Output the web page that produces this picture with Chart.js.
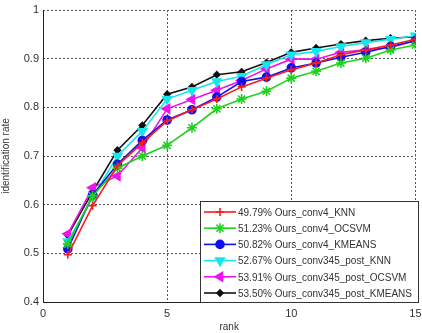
<!DOCTYPE html>
<html>
<head>
<meta charset="utf-8">
<script src="https://cdn.jsdelivr.net/npm/chart.js@4.4.1/dist/chart.umd.min.js"></script>
<style>
  html, body { margin: 0; padding: 0; background: #fff; }
  #wrap { width: 422px; height: 333px; position: relative; }
</style>
</head>
<body>
<div id="wrap"><canvas id="chart"></canvas></div>
<script>
const ranks = [1, 2, 3, 4, 5, 6, 7, 8, 9, 10, 11, 12, 13, 14, 15];

const conv4Knn = [0.497, 0.598, 0.680, 0.727, 0.772, 0.795, 0.817, 0.842, 0.860, 0.877, 0.891, 0.908, 0.918, 0.928, 0.940];
const conv4Ocsvm = [0.519, 0.618, 0.675, 0.700, 0.722, 0.758, 0.797, 0.817, 0.833, 0.860, 0.874, 0.891, 0.901, 0.918, 0.928];
const conv4Kmeans = [0.509, 0.620, 0.683, 0.732, 0.774, 0.795, 0.821, 0.853, 0.862, 0.881, 0.891, 0.903, 0.913, 0.925, 0.937];
const postKnn = [0.524, 0.615, 0.700, 0.751, 0.817, 0.835, 0.853, 0.864, 0.888, 0.908, 0.915, 0.925, 0.933, 0.940, 0.947];
const postOcsvm = [0.540, 0.635, 0.659, 0.717, 0.797, 0.816, 0.835, 0.855, 0.879, 0.899, 0.899, 0.913, 0.918, 0.923, 0.937];
const postKmeans = [0.537, 0.627, 0.712, 0.763, 0.827, 0.842, 0.867, 0.873, 0.892, 0.913, 0.922, 0.930, 0.937, 0.942, 0.945];

const xTicks = [0, 5, 10, 15];
const yTicks = [0.4, 0.5, 0.6, 0.7, 0.8, 0.9, 1];

const seriesLabels = [
    '49.79% Ours_conv4_KNN',
    '51.23% Ours_conv4_OCSVM',
    '50.82% Ours_conv4_KMEANS',
    '52.67% Ours_conv345_post_KNN',
    '53.91% Ours_conv345_post_OCSVM',
    '53.50% Ours_conv345_post_KMEANS'
];

const styles = [
    { color: '#ff1a1a', point: 'cross', radius: 4, rot: 0 },
    { color: '#1ed21e', point: 'star', radius: 5, rot: 0 },
    { color: '#1010ee', point: 'circle', radius: 4, rot: 0 },
    { color: '#14e6ee', point: 'triangle', radius: 5, rot: 180 },
    { color: '#ee14ee', point: 'triangle', radius: 5, rot: -90 },
    { color: '#111111', point: 'rectRot', radius: 3, rot: 0 }
];

const values = [conv4Knn, conv4Ocsvm, conv4Kmeans, postKnn, postOcsvm, postKmeans];

const datasets = values.map((vals, i) => ({
    label: seriesLabels[i],
    data: vals.map((v, j) => ({ x: ranks[j], y: v })),
    borderColor: styles[i].color,
    backgroundColor: styles[i].color,
    borderWidth: 1.6,
    pointStyle: styles[i].point,
    pointRadius: styles[i].radius,
    pointRotation: styles[i].rot,
    pointBorderWidth: 1.6,
    tension: 0
}));

const matlabFrame = {
    id: 'matlabFrame',
    afterDraw(chart) {
        const { ctx, chartArea: a } = chart;
        ctx.save();
        ctx.strokeStyle = '#222';
        ctx.lineWidth = 1;
        ctx.beginPath();
        ctx.moveTo(a.left + 0.5, a.top);
        ctx.lineTo(a.left + 0.5, a.bottom + 0.5);
        ctx.lineTo(a.right, a.bottom + 0.5);
        ctx.stroke();

        // legend box inside plot
        const bx = 200, by = 201, bw = 218, bh = 101;
        ctx.fillStyle = '#fff';
        ctx.fillRect(bx, by, bw, bh);
        ctx.strokeStyle = '#333';
        ctx.lineWidth = 1;
        ctx.strokeRect(bx + 0.5, by + 0.5, bw, bh);
        ctx.font = '10px "Liberation Sans", Arial, sans-serif';
        ctx.textBaseline = 'middle';
        seriesLabels.forEach((lab, i) => {
            const y = by + 11 + i * 16.2;
            const s = styles[i];
            ctx.strokeStyle = s.color;
            ctx.lineWidth = 1.6;
            ctx.beginPath();
            ctx.moveTo(bx + 4, y);
            ctx.lineTo(bx + 36, y);
            ctx.stroke();
            ctx.fillStyle = s.color;
            Chart.helpers.drawPoint(ctx, {
                pointStyle: s.point, radius: s.radius, rotation: s.rot, borderWidth: 1.6
            }, bx + 20, y);
            ctx.fillStyle = '#333';
            ctx.fillText(lab, bx + 38, y + 1);
        });
        ctx.restore();
    }
};

new Chart(document.getElementById('chart'), {
    type: 'line',
    data: { datasets },
    options: {
        responsive: true,
        maintainAspectRatio: false,
        animation: false,
        layout: { padding: { top: 10, right: 4, left: 0, bottom: 0 } },
        plugins: { legend: { display: false }, tooltip: { enabled: false } },
        scales: {
            x: {
                type: 'linear',
                min: 0, max: 15,
                afterBuildTicks: s => { s.ticks = xTicks.map(v => ({ value: v })); },
                afterFit: s => { s.paddingLeft = 0; s.paddingRight = 0; s.height = 31; },
                grid: { color: '#555', lineWidth: 1, drawTicks: false },
                border: { display: false, dash: [2, 2] },
                ticks: { color: '#333', font: { family: 'Liberation Sans', size: 11 }, padding: 5, maxRotation: 0 },
                title: { display: true, text: 'rank', color: '#333', font: { family: 'Liberation Sans', size: 10 }, padding: { top: 2, bottom: 0 } }
            },
            y: {
                min: 0.4, max: 1,
                afterBuildTicks: s => { s.ticks = yTicks.map(v => ({ value: v })); },
                afterFit: s => { s.width = 43; s.paddingTop = 0; s.paddingBottom = 0; },
                grid: { color: '#555', lineWidth: 1, drawTicks: false },
                border: { display: false, dash: [2, 2] },
                ticks: { color: '#333', font: { family: 'Liberation Sans', size: 11 }, padding: 4, callback: v => String(Math.round(v * 10) / 10) },
                title: { display: true, text: 'identification rate', color: '#333', font: { family: 'Liberation Sans', size: 10 }, padding: { top: 0, bottom: 2 } }
            }
        }
    },
    plugins: [matlabFrame]
});
</script>
</body>
</html>
